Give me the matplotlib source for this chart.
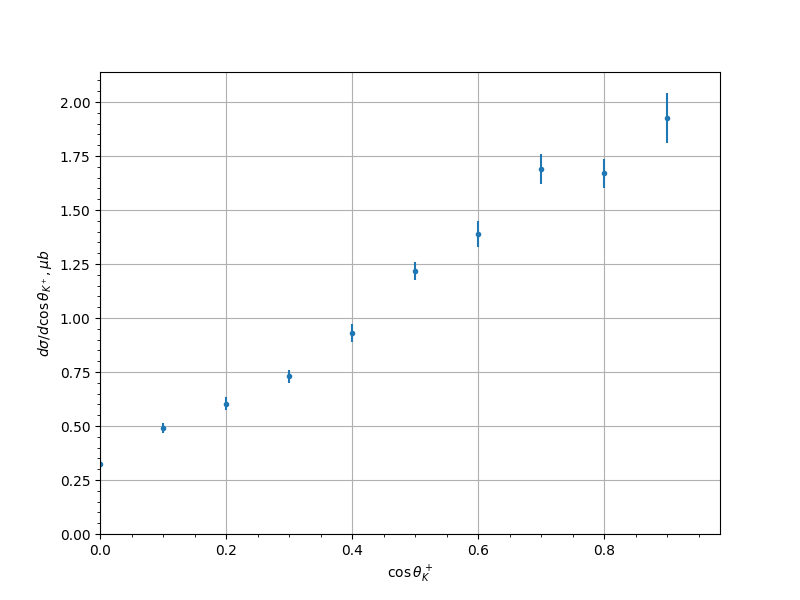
import matplotlib
matplotlib.use("Agg")
import matplotlib.pyplot as plt

cos_theta = [0.0, 0.1, 0.2, 0.3, 0.4, 0.5, 0.6, 0.7, 0.8, 0.9]
dsigma = [0.324, 0.491, 0.602, 0.731, 0.931, 1.218, 1.389, 1.690, 1.671, 1.926]
errors = [0.02, 0.025, 0.03, 0.03, 0.04, 0.04, 0.058, 0.07, 0.067, 0.118]

fig, ax = plt.subplots(figsize=(8, 6), dpi=100)
ax.errorbar(cos_theta, dsigma, yerr=errors, fmt='.')
ax.set_xlim(0, 0.984)
ax.set_ylim(0, 2.139)
ax.set_xlabel(r'$\cos\theta_K^+$')
ax.set_ylabel(r'$d\sigma/d\cos\theta_{K^+}, \mu b$')
ax.minorticks_on()
ax.grid(which='major')
fig.savefig('out.png')
